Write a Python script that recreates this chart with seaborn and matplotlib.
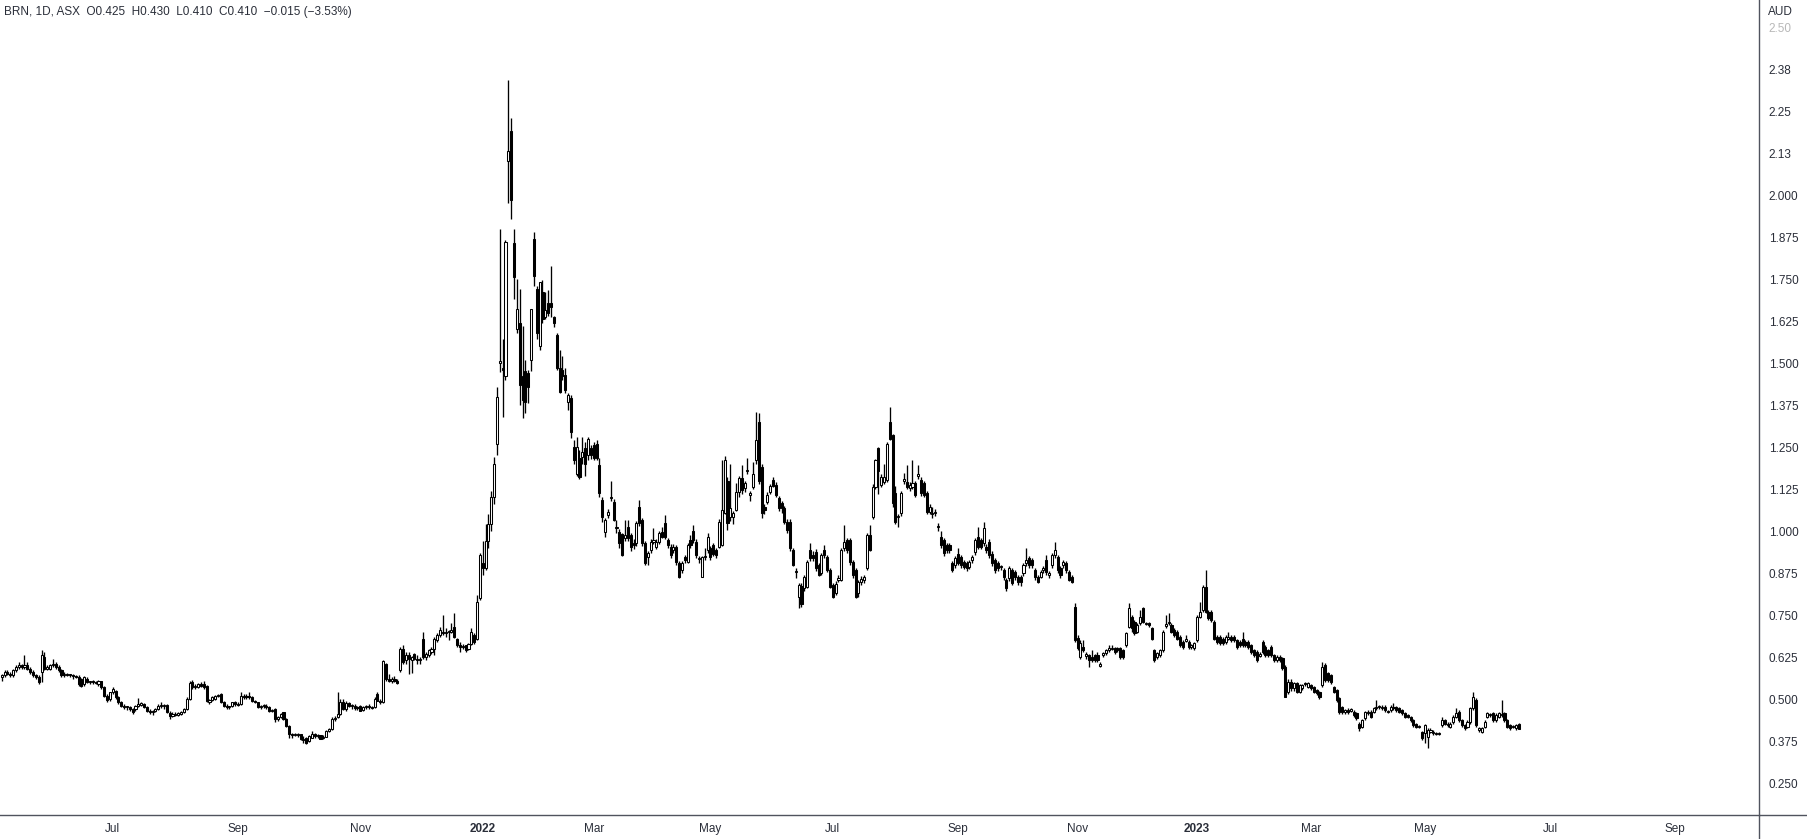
import numpy as np
import pandas as pd
import matplotlib.pyplot as plt
import seaborn as sns
from matplotlib.lines import Line2D

# daily candles (open, high, low, close)
bars_2021_mid = [
    (.565,.575,.555,.570), (.570,.585,.565,.580), (.580,.585,.570,.575), (.575,.580,.565,.570),
    (.570,.590,.565,.585), (.585,.600,.580,.595), (.595,.610,.590,.600), (.600,.605,.590,.595),
    (.595,.630,.590,.600), (.600,.610,.585,.590), (.590,.595,.575,.580), (.580,.585,.565,.570),
    (.570,.575,.560,.565), (.565,.570,.545,.550), (.580,.645,.550,.630), (.625,.640,.585,.590),
    (.590,.600,.585,.595), (.590,.605,.585,.600), (.600,.620,.595,.605), (.605,.610,.590,.595),
    (.595,.600,.580,.585), (.585,.590,.565,.570), (.570,.580,.565,.575), (.575,.578,.568,.572),
    (.572,.575,.565,.570), (.570,.575,.560,.568), (.568,.572,.563,.566), (.566,.570,.540,.545),
    (.560,.562,.535,.538), (.545,.568,.540,.565), (.560,.565,.548,.550), (.550,.555,.545,.552),
    (.552,.556,.545,.550), (.550,.555,.545,.548), (.545,.556,.540,.553), (.553,.555,.530,.535),
    (.535,.538,.505,.510), (.510,.515,.490,.498), (.500,.522,.495,.520), (.520,.535,.515,.530),
    (.525,.528,.500,.505), (.505,.508,.485,.490), (.490,.495,.475,.480), (.480,.485,.470,.475),
    (.475,.480,.468,.476), (.476,.480,.465,.470), (.470,.472,.455,.462), (.470,.482,.465,.480),
    (.480,.502,.475,.485), (.482,.490,.478,.488), (.485,.488,.472,.475), (.475,.478,.462,.465),
    (.465,.470,.455,.460), (.460,.468,.452,.465), (.465,.473,.460,.470), (.470,.485,.468,.478),
    (.478,.490,.472,.480), (.480,.485,.470,.482), (.482,.485,.458,.460), (.458,.465,.440,.450),
    (.450,.460,.445,.455), (.455,.460,.448,.452), (.452,.462,.448,.458), (.455,.464,.452,.462),
    (.462,.472,.458,.470), (.470,.505,.468,.500), (.500,.555,.498,.548), (.550,.558,.530,.535),
    (.535,.545,.530,.540), (.535,.548,.532,.545), (.545,.550,.535,.540), (.545,.555,.530,.535),
    (.540,.542,.490,.495), (.490,.500,.485,.498), (.498,.510,.495,.505), (.500,.512,.497,.510),
    (.510,.515,.505,.512), (.515,.518,.488,.490), (.490,.493,.476,.480), (.480,.485,.470,.475),
    (.475,.480,.470,.477), (.478,.492,.475,.490), (.490,.495,.480,.485), (.485,.490,.478,.482),
    (.485,.520,.482,.510), (.510,.515,.500,.505), (.505,.515,.500,.510), (.510,.520,.500,.505),
    (.505,.508,.492,.495), (.495,.498,.487,.490), (.490,.492,.472,.475), (.475,.482,.470,.478),
    (.478,.485,.472,.480), (.480,.485,.470,.476), (.476,.478,.462,.465), (.465,.470,.460,.466),
]

bars_2021_late = [
    (.470,.472,.432,.440), (.440,.450,.435,.445), (.445,.458,.442,.455), (.460,.462,.438,.440),
    (.440,.443,.418,.420), (.420,.423,.385,.395), (.395,.400,.385,.393), (.393,.400,.390,.395),
    (.395,.398,.388,.392), (.395,.397,.378,.380), (.382,.390,.368,.378), (.385,.388,.365,.370),
    (.375,.392,.372,.390), (.385,.405,.383,.395), (.395,.400,.385,.390), (.390,.395,.385,.392),
    (.392,.394,.380,.382), (.385,.392,.380,.388), (.388,.407,.386,.405), (.405,.415,.402,.412),
    (.410,.445,.408,.440), (.440,.448,.435,.443), (.445,.520,.443,.455), (.455,.500,.452,.490),
    (.490,.500,.468,.470), (.470,.495,.465,.488), (.488,.490,.476,.478), (.478,.485,.470,.480),
    (.480,.485,.468,.472), (.472,.480,.468,.476), (.480,.482,.463,.465), (.468,.480,.465,.475),
    (.475,.482,.470,.478), (.478,.485,.470,.476), (.476,.480,.470,.474), (.475,.505,.472,.500),
    (.515,.520,.493,.495), (.495,.500,.485,.490), (.490,.615,.488,.612), (.605,.608,.555,.560),
    (.560,.575,.550,.555), (.555,.565,.548,.560), (.560,.568,.550,.555), (.555,.560,.545,.548),
    (.585,.655,.580,.650), (.650,.660,.605,.610), (.615,.640,.605,.630), (.630,.640,.575,.620),
    (.615,.628,.578,.625), (.635,.638,.615,.620), (.620,.630,.605,.615), (.615,.625,.605,.618),
    (.680,.700,.618,.625), (.625,.640,.615,.635), (.630,.648,.625,.645), (.640,.655,.635,.650),
    (.650,.685,.630,.680), (.675,.695,.670,.690), (.690,.715,.685,.705), (.700,.750,.690,.695),
    (.695,.710,.685,.700), (.700,.705,.675,.700), (.700,.725,.695,.705), (.715,.755,.682,.685),
    (.680,.683,.655,.660), (.660,.670,.640,.655), (.655,.665,.650,.658), (.660,.662,.640,.645),
    (.650,.668,.646,.665), (.665,.710,.660,.700), (.690,.695,.665,.670), (.680,.810,.675,.790),
    (.800,.935,.795,.930), (.905,.970,.870,.890), (.890,1.020,.885,.970), (.970,1.050,.950,1.020),
    (1.020,1.120,1.000,1.100), (1.100,1.220,1.080,1.200),
]

bars_2022_spike = [
    (1.260,1.430,1.226,1.400), (1.500,1.900,1.474,1.505), (1.485,1.570,1.340,1.480),
    (1.460,1.866,1.450,1.860), (2.100,2.342,1.975,2.130), (2.190,2.230,1.930,1.985),
    (1.856,1.900,1.690,1.757), (1.600,1.750,1.590,1.660), (1.620,1.720,1.375,1.435),
    (1.460,1.610,1.335,1.390), (1.475,1.510,1.350,1.385), (1.470,1.480,1.380,1.430),
    (1.510,1.660,1.475,1.660), (1.870,1.890,1.730,1.760), (1.720,1.730,1.570,1.590),
    (1.550,1.742,1.540,1.740), (1.710,1.747,1.620,1.630), (1.637,1.712,1.630,1.657),
    (1.680,1.717,1.640,1.650), (1.678,1.790,1.638,1.666), (1.638,1.640,1.608,1.618),
    (1.583,1.590,1.480,1.484), (1.484,1.539,1.410,1.415), (1.480,1.520,1.450,1.460),
    (1.464,1.484,1.410,1.420), (1.385,1.410,1.360,1.405), (1.395,1.405,1.276,1.296),
    (1.250,1.270,1.200,1.210),
]

bars_2022_mid = [
    (1.170,1.280,1.165,1.250), (1.216,1.240,1.155,1.160), (1.220,1.280,1.200,1.236),
    (1.246,1.265,1.165,1.200), (1.226,1.280,1.210,1.273), (1.246,1.255,1.215,1.226),
    (1.256,1.265,1.210,1.216), (1.260,1.270,1.210,1.216), (1.196,1.216,1.100,1.112),
    (1.092,1.100,1.028,1.043), (0.998,1.040,0.983,1.033), (1.048,1.065,1.040,1.058),
    (1.098,1.150,1.090,1.102), (1.087,1.095,1.030,1.033), (1.008,1.033,0.995,1.010),
    (0.998,1.005,0.948,0.963), (0.990,0.995,0.925,0.930), (0.980,1.033,0.970,0.988),
    (1.013,1.033,0.970,0.978), (0.988,0.995,0.940,0.953), (0.963,0.975,0.945,0.958),
    (0.963,1.030,0.955,1.023), (1.070,1.092,1.015,1.023), (1.033,1.040,0.955,0.963),
    (0.963,0.970,0.900,0.904), (0.924,0.940,0.899,0.934), (0.943,0.975,0.935,0.968),
    (0.968,1.008,0.960,0.973), (0.953,0.975,0.945,0.968), (0.968,1.000,0.960,0.993),
    (0.998,1.013,0.978,0.983), (1.023,1.048,0.975,0.983), (0.973,0.980,0.950,0.958),
    (0.953,0.960,0.920,0.928), (0.943,0.960,0.935,0.953), (0.953,0.958,0.900,0.909),
    (0.904,0.910,0.860,0.864), (0.884,0.910,0.874,0.904), (0.923,0.930,0.905,0.913),
    (0.909,0.965,0.905,0.958), (0.973,0.988,0.950,0.958), (1.000,1.018,0.965,0.973),
    (0.968,0.975,0.920,0.928), (0.918,0.925,0.905,0.920), (0.864,0.925,0.864,0.923),
    (0.923,0.948,0.915,0.925), (0.943,0.993,0.935,0.983), (0.948,0.955,0.915,0.923),
    (0.958,0.965,0.925,0.933), (0.943,0.950,0.920,0.928), (0.953,1.035,0.948,1.028),
    (0.958,1.210,0.955,1.063), (1.053,1.223,1.050,1.210), (1.150,1.160,1.003,1.023),
    (1.043,1.200,1.030,1.068), (1.043,1.060,1.020,1.053), (1.063,1.142,1.060,1.117),
    (1.117,1.165,1.100,1.157), (1.157,1.196,1.110,1.122), (1.127,1.150,1.115,1.142),
    (1.178,1.216,1.170,1.182), (1.107,1.120,1.090,1.112), (1.132,1.206,1.125,1.171),
    (1.210,1.355,1.200,1.270), (1.325,1.350,1.140,1.150), (1.190,1.200,1.040,1.053),
    (1.072,1.080,1.050,1.063), (1.087,1.115,1.080,1.107), (1.117,1.140,1.110,1.134),
    (1.152,1.160,1.130,1.134),
]

bars_2022_late = [
    (1.137,1.145,1.100,1.107), (1.097,1.105,1.060,1.067), (1.082,1.090,1.055,1.067),
    (1.067,1.075,1.020,1.028), (1.028,1.035,0.995,1.003), (1.028,1.035,0.940,0.948),
    (0.943,0.950,0.895,0.899), (0.877,0.890,0.860,0.881), (0.805,0.845,0.770,0.840),
    (0.836,0.845,0.775,0.783), (0.829,0.870,0.820,0.864), (0.834,0.913,0.830,0.909),
    (0.943,0.963,0.910,0.919), (0.928,0.940,0.910,0.919), (0.938,0.945,0.880,0.889),
    (0.899,0.905,0.865,0.869), (0.874,0.935,0.869,0.929), (0.943,0.958,0.920,0.929),
    (0.923,0.930,0.879,0.884), (0.884,0.890,0.830,0.834), (0.839,0.845,0.800,0.805),
    (0.815,0.850,0.810,0.842), (0.854,0.870,0.848,0.859), (0.854,0.950,0.850,0.943),
    (0.948,1.018,0.940,0.968), (0.973,0.980,0.935,0.943), (0.973,0.978,0.900,0.909),
    (0.909,0.915,0.860,0.869), (0.884,0.890,0.800,0.805), (0.815,0.855,0.805,0.849),
    (0.849,0.865,0.840,0.856), (0.854,0.870,0.845,0.864), (0.889,0.995,0.885,0.988),
    (0.988,1.018,0.940,0.943), (1.043,1.140,1.035,1.132), (1.132,1.215,1.125,1.210),
    (1.246,1.250,1.110,1.180), (1.137,1.170,1.130,1.162), (1.147,1.200,1.140,1.162),
    (1.152,1.265,1.145,1.260), (1.325,1.370,1.270,1.275), (1.285,1.290,1.070,1.082),
    (1.112,1.135,1.020,1.028), (1.041,1.050,1.013,1.045), (1.053,1.120,1.045,1.112),
    (1.150,1.172,1.140,1.154), (1.147,1.197,1.125,1.132), (1.127,1.145,1.120,1.137),
    (1.132,1.210,1.125,1.142), (1.142,1.150,1.100,1.107), (1.165,1.197,1.155,1.169),
    (1.152,1.160,1.105,1.112), (1.142,1.150,1.100,1.107), (1.112,1.120,1.050,1.058),
    (1.058,1.080,1.050,1.072), (1.051,1.070,1.040,1.055), (1.053,1.065,1.045,1.058),
    (1.011,1.025,1.000,1.015), (0.983,1.000,0.950,0.958), (0.973,0.980,0.925,0.934),
    (0.958,0.965,0.935,0.943), (0.958,0.965,0.935,0.943), (0.904,0.910,0.878,0.884),
    (0.899,0.925,0.890,0.919), (0.933,0.948,0.900,0.904), (0.923,0.930,0.890,0.899),
    (0.909,0.915,0.888,0.894), (0.904,0.910,0.880,0.889), (0.894,0.915,0.888,0.909),
    (0.914,0.930,0.905,0.924), (0.938,0.980,0.930,0.973), (0.983,1.013,0.945,0.953),
    (0.973,0.980,0.945,0.953), (0.963,1.028,0.955,1.008), (0.953,0.960,0.935,0.943),
    (0.968,0.975,0.920,0.929), (0.933,0.940,0.895,0.904), (0.914,0.920,0.875,0.884),
    (0.904,0.910,0.880,0.889), (0.892,0.900,0.885,0.896), (0.884,0.890,0.855,0.864),
    (0.854,0.860,0.820,0.829), (0.859,0.895,0.850,0.889), (0.884,0.890,0.840,0.844),
    (0.879,0.885,0.855,0.864), (0.864,0.870,0.840,0.849), (0.864,0.870,0.835,0.849),
    (0.874,0.905,0.865,0.899), (0.904,0.948,0.895,0.914), (0.919,0.925,0.890,0.899),
    (0.914,0.920,0.890,0.899), (0.884,0.890,0.855,0.864), (0.864,0.870,0.845,0.849),
    (0.864,0.885,0.860,0.879), (0.884,0.895,0.875,0.889), (0.914,0.929,0.870,0.879),
    (0.869,0.880,0.860,0.874), (0.899,0.935,0.890,0.928), (0.928,0.968,0.920,0.943),
    (0.923,0.930,0.875,0.884), (0.889,0.895,0.860,0.869), (0.899,0.915,0.890,0.909),
    (0.904,0.910,0.875,0.884), (0.879,0.885,0.850,0.854), (0.864,0.870,0.845,0.849),
]

bars_2023 = [
    (0.775,0.785,0.670,0.676), (0.681,0.690,0.645,0.651), (0.626,0.675,0.620,0.666),
    (0.656,0.676,0.640,0.646), (0.629,0.640,0.620,0.633), (0.631,0.635,0.596,0.616),
    (0.626,0.646,0.610,0.616), (0.631,0.635,0.610,0.616), (0.631,0.640,0.610,0.616),
    (0.599,0.610,0.595,0.603), (0.631,0.640,0.625,0.636), (0.636,0.650,0.630,0.646),
    (0.646,0.661,0.640,0.651), (0.650,0.660,0.645,0.653), (0.651,0.655,0.635,0.641),
    (0.651,0.655,0.640,0.646), (0.651,0.655,0.620,0.626), (0.646,0.650,0.620,0.626),
    (0.661,0.700,0.655,0.696), (0.715,0.785,0.710,0.770), (0.745,0.750,0.700,0.710),
    (0.730,0.735,0.690,0.696), (0.700,0.725,0.695,0.720), (0.725,0.765,0.720,0.745),
    (0.770,0.775,0.725,0.730), (0.723,0.730,0.720,0.727), (0.725,0.730,0.715,0.720),
    (0.710,0.715,0.675,0.680), (0.646,0.650,0.610,0.616), (0.626,0.640,0.620,0.636),
    (0.631,0.650,0.625,0.646), (0.646,0.705,0.640,0.700), (0.718,0.750,0.710,0.722),
    (0.725,0.755,0.720,0.730), (0.720,0.725,0.695,0.700), (0.705,0.710,0.685,0.690),
    (0.700,0.705,0.675,0.680), (0.685,0.690,0.655,0.660), (0.670,0.675,0.650,0.656),
    (0.674,0.690,0.670,0.678), (0.670,0.675,0.650,0.656), (0.656,0.665,0.650,0.661),
    (0.651,0.670,0.645,0.666), (0.676,0.750,0.670,0.745), (0.745,0.790,0.740,0.760),
    (0.765,0.840,0.760,0.834), (0.834,0.884,0.755,0.760), (0.760,0.765,0.735,0.740),
    (0.760,0.765,0.730,0.735), (0.730,0.735,0.675,0.680), (0.685,0.690,0.665,0.670),
    (0.685,0.690,0.660,0.666), (0.680,0.685,0.660,0.666), (0.671,0.690,0.665,0.685),
    (0.680,0.700,0.675,0.685), (0.685,0.690,0.670,0.676), (0.685,0.690,0.670,0.676),
    (0.676,0.680,0.650,0.656), (0.671,0.675,0.655,0.661), (0.680,0.700,0.655,0.661),
    (0.671,0.675,0.655,0.661), (0.671,0.675,0.650,0.656), (0.661,0.665,0.635,0.641),
    (0.646,0.650,0.625,0.631), (0.641,0.645,0.610,0.616), (0.629,0.640,0.625,0.633),
    (0.671,0.675,0.635,0.641), (0.656,0.660,0.625,0.631), (0.646,0.650,0.625,0.631),
    (0.656,0.660,0.625,0.631), (0.631,0.635,0.610,0.616), (0.616,0.630,0.610,0.626),
    (0.626,0.630,0.610,0.616), (0.621,0.625,0.585,0.591), (0.596,0.600,0.505,0.507),
    (0.522,0.560,0.515,0.552), (0.552,0.560,0.525,0.532), (0.532,0.550,0.525,0.547),
    (0.547,0.550,0.518,0.522), (0.522,0.546,0.518,0.542), (0.532,0.546,0.528,0.542),
    (0.545,0.550,0.540,0.549), (0.537,0.552,0.532,0.547), (0.542,0.546,0.528,0.532),
    (0.537,0.540,0.518,0.522), (0.527,0.530,0.512,0.517), (0.522,0.525,0.500,0.507),
    (0.541,0.611,0.535,0.596), (0.601,0.606,0.550,0.557), (0.576,0.580,0.550,0.557),
    (0.571,0.575,0.545,0.552), (0.537,0.540,0.518,0.522), (0.527,0.530,0.490,0.497),
    (0.502,0.505,0.455,0.462), (0.477,0.480,0.455,0.462), (0.462,0.470,0.455,0.467),
    (0.467,0.472,0.455,0.462), (0.465,0.472,0.460,0.469), (0.462,0.467,0.447,0.452),
    (0.457,0.460,0.437,0.442), (0.427,0.432,0.405,0.413), (0.418,0.440,0.413,0.437),
    (0.442,0.465,0.437,0.462), (0.457,0.467,0.452,0.462), (0.462,0.467,0.442,0.447),
    (0.462,0.477,0.457,0.472), (0.472,0.497,0.467,0.477), (0.476,0.482,0.470,0.478),
    (0.472,0.482,0.467,0.477), (0.477,0.482,0.462,0.467), (0.461,0.467,0.457,0.463),
    (0.467,0.482,0.462,0.477), (0.472,0.487,0.467,0.477), (0.477,0.480,0.462,0.467),
    (0.472,0.475,0.457,0.462), (0.467,0.470,0.452,0.457), (0.457,0.460,0.442,0.447),
    (0.452,0.455,0.442,0.447), (0.447,0.450,0.432,0.437), (0.437,0.440,0.418,0.423),
    (0.427,0.430,0.413,0.418), (0.417,0.422,0.413,0.419), (0.402,0.405,0.378,0.383),
    (0.398,0.425,0.368,0.423), (0.388,0.413,0.353,0.408), (0.403,0.413,0.398,0.408),
    (0.398,0.408,0.393,0.403), (0.397,0.403,0.393,0.399), (0.397,0.403,0.393,0.399),
    (0.423,0.445,0.418,0.437), (0.437,0.440,0.422,0.427), (0.423,0.432,0.418,0.427),
    (0.418,0.432,0.413,0.427), (0.432,0.452,0.427,0.447), (0.447,0.472,0.442,0.457),
    (0.462,0.467,0.432,0.437), (0.437,0.440,0.418,0.423), (0.423,0.427,0.408,0.413),
    (0.418,0.437,0.413,0.432), (0.432,0.477,0.427,0.472), (0.472,0.522,0.467,0.507),
    (0.497,0.502,0.418,0.423), (0.408,0.418,0.403,0.413), (0.403,0.418,0.398,0.413),
    (0.418,0.437,0.413,0.432), (0.447,0.462,0.442,0.457), (0.451,0.457,0.447,0.453),
    (0.457,0.462,0.432,0.437), (0.437,0.457,0.432,0.452), (0.447,0.462,0.442,0.457),
    (0.451,0.497,0.447,0.453), (0.457,0.462,0.432,0.437), (0.437,0.440,0.413,0.418),
    (0.423,0.427,0.408,0.413), (0.417,0.422,0.413,0.419), (0.413,0.427,0.408,0.423),
    (0.425,0.430,0.410,0.410),
]

header = "BRN, 1D, ASX  O0.425  H0.430  L0.410  C0.410  \u22120.015 (\u22123.53%)"
price_ticks = [0.25 + 0.125 * i for i in range(19)]
price_labels = ['0.250', '0.375', '0.500', '0.625', '0.750', '0.875', '1.000', '1.125',
                '1.250', '1.375', '1.500', '1.625', '1.750', '1.875', '2.000', '2.13',
                '2.25', '2.38', '2.50']
month_names = {1: None, 3: 'Mar', 5: 'May', 7: 'Jul', 9: 'Sep', 11: 'Nov'}
asx_holidays = ['2021-06-14', '2021-12-27', '2021-12-28', '2022-01-03', '2022-01-26',
                '2022-04-15', '2022-04-18', '2022-04-25', '2022-06-13', '2022-09-22',
                '2022-12-26', '2022-12-27', '2023-01-02', '2023-01-26', '2023-04-07',
                '2023-04-10', '2023-04-25', '2023-06-12']

df = pd.DataFrame(bars_2021_mid + bars_2021_late + bars_2022_spike + bars_2022_mid
                  + bars_2022_late + bars_2023, columns=['open', 'high', 'low', 'close'])
df['x'] = np.arange(len(df))
df['up'] = df['close'] >= df['open']

W, H = 1808, 839
plot_w, plot_h = 1759, 815
spacing = 1517 / (len(df) - 1)
n_slots = int(plot_w / spacing) + 2
cal = pd.offsets.CustomBusinessDay(holidays=asx_holidays)
dates = pd.date_range('2021-05-06', periods=n_slots, freq=cal)

sns.set_theme(style="white")
plt.rcParams['font.family'] = ['Liberation Sans', 'DejaVu Sans']
text_col = '#2a2e39'
line_col = '#50535e'

fig = plt.figure(figsize=(W / 100, H / 100), dpi=100)
ax = fig.add_axes([0, (H - plot_h) / H, plot_w / W, plot_h / H])

# wicks
ax.vlines(df['x'], df['low'], df['high'], color='black', lw=0.95, zorder=2)
# bodies
body = (df['close'] - df['open']).abs().clip(lower=0.003)
base = df[['open', 'close']].min(axis=1)
up = df['up']
ax.bar(df['x'][up], body[up], bottom=base[up], width=0.74, color='white',
       edgecolor='black', lw=0.75, zorder=3)
ax.bar(df['x'][~up], body[~up], bottom=base[~up], width=0.74, color='black',
       edgecolor='black', lw=0.75, zorder=3)

ax.set_xlim(-0.6, plot_w / spacing - 0.6)
ax.set_ylim(0.25 - 32 / 336, 0.25 + 783 / 336)

sns.despine(ax=ax, left=True, top=True, right=False, bottom=False)
for side in ('right', 'bottom'):
    ax.spines[side].set_color(line_col)
    ax.spines[side].set_linewidth(1.0)

ax.yaxis.tick_right()
ax.set_yticks(price_ticks)
ax.set_yticklabels(price_labels)
ax.tick_params(axis='y', length=0, pad=7, labelsize=8.5, labelcolor=text_col)
ax.get_yticklabels()[-1].set_color('#b8b8b8')

# month ticks every two months, year on January
xt, xl = [], []
d = pd.Series(dates)
first = d[d.dt.month != d.shift(1).dt.month]
for i, dt in first.items():
    if i == 0 or dt.month not in month_names:
        continue
    xt.append(i)
    xl.append(str(dt.year) if dt.month == 1 else month_names[dt.month])
ax.set_xticks(xt)
ax.set_xticklabels(xl)
ax.tick_params(axis='x', length=0, pad=6, labelsize=8.5, labelcolor=text_col)
for lab in ax.get_xticklabels():
    if lab.get_text().isdigit():
        lab.set_fontweight('bold')
ax.grid(False)

# axis lines running past the plot area
xr = plot_w / W
yb = (H - plot_h) / H
fig.add_artist(Line2D([xr, xr], [0, yb], color=line_col, lw=1.0))
fig.add_artist(Line2D([xr, 1], [yb, yb], color=line_col, lw=1.0))

fig.text(4 / W, 1 - 12 / H, header, ha='left', va='center', fontsize=8.5, color=text_col)
fig.text(1768 / W, 1 - 12 / H, 'AUD', ha='left', va='center', fontsize=8.5, color=text_col)

fig.savefig('out.png', dpi=100, facecolor='white')
